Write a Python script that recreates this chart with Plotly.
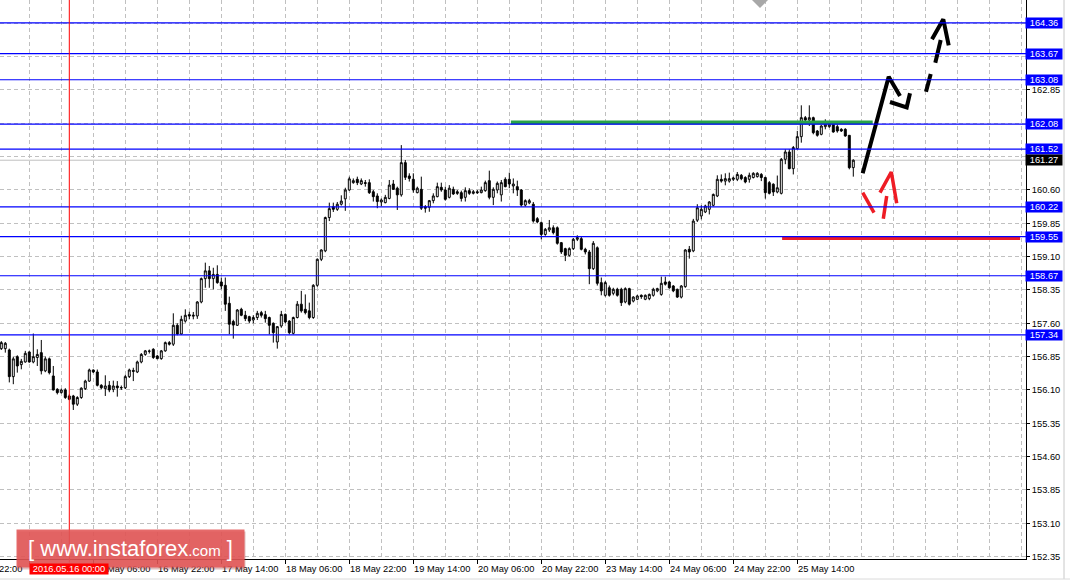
import plotly.graph_objects as go

# ---------------- data (H1 bars, bar 17 = 2016.05.16 00:00) ----------------
bar_index = list(range(214))

bar_open = [
    157.03, 157.03, 157.00, 156.40, 156.85, 156.67, 156.73, 156.955, 156.73, 156.83,
    156.94, 156.53, 156.80, 156.415, 156.115, 156.04, 156.10, 155.965, 155.965, 155.78,
    155.93, 156.13, 156.30, 156.55, 156.505, 156.205, 156.13, 156.205, 156.115, 156.19,
    156.155, 156.15, 156.40, 156.54, 156.505, 156.73, 156.90, 156.97, 157.015, 156.865,
    156.805, 156.98, 157.165, 157.13, 157.555, 157.36, 157.65, 157.795, 157.76, 157.765,
    158.08, 158.605, 158.78, 158.605, 158.70, 158.53, 158.455, 158.05, 157.64, 157.555,
    157.915, 157.78, 157.75, 157.675, 157.73, 157.84, 157.795, 157.73, 157.60, 157.18,
    157.54, 157.80, 157.65, 157.375, 157.73, 158.03, 157.915, 157.88, 157.73, 158.455,
    159.04, 159.23, 159.98, 160.225, 160.165, 160.28, 160.40, 160.60, 160.765, 160.84,
    160.735, 160.765, 160.765, 160.56, 160.465, 160.33, 160.315, 160.41, 160.735, 160.64,
    160.49, 161.215, 160.915, 160.84, 160.54, 160.615, 160.225, 160.21, 160.36, 160.45,
    160.66, 160.60, 160.435, 160.615, 160.56, 160.54, 160.435, 160.585, 160.525, 160.56,
    160.54, 160.585, 160.81, 160.435, 160.60, 160.49, 160.84, 160.84, 160.69, 160.675,
    160.60, 160.26, 160.31, 160.28, 159.955, 159.865, 159.60, 159.70, 159.75, 159.75,
    159.415, 159.28, 159.13, 159.28, 159.49, 159.505, 159.265, 159.205, 158.83, 159.30,
    158.515, 158.23, 158.40, 158.275, 158.365, 158.365, 158.08, 158.38, 158.10, 158.14,
    158.23, 158.14, 158.155, 158.23, 158.33, 158.25, 158.53, 158.53, 158.44, 158.365,
    158.19, 158.425, 159.265, 159.23, 159.92, 160.015, 160.105, 160.165, 160.255, 160.465,
    160.84, 160.80, 160.80, 160.84, 160.84, 160.93, 160.88, 160.84, 160.88, 160.90,
    160.95, 160.88, 160.765, 160.73, 160.555, 160.525, 161.29, 161.455, 161.08, 161.53,
    161.80, 162.2275, 162.175, 162.2275, 161.9275, 161.8525, 162.025, 162.025, 162.0775, 162.025,
    161.965, 161.965, 161.83, 161.1025,
]

bar_high = [
    157.20, 157.18, 157.03, 156.85, 156.88, 156.80, 156.98, 156.97, 157.37, 157.015,
    157.225, 156.85, 156.83, 156.64, 156.14, 156.13, 156.14, 156.00, 155.99, 155.96,
    156.16, 156.33, 156.58, 156.56, 156.56, 156.23, 156.43, 156.30, 156.31, 156.30,
    156.20, 156.44, 156.58, 156.60, 156.76, 156.93, 157.00, 157.01, 157.04, 156.89,
    157.00, 157.19, 157.20, 157.825, 157.60, 157.77, 157.915, 157.86, 157.855, 158.10,
    158.63, 158.965, 158.89, 158.85, 158.905, 158.63, 158.63, 158.20, 157.68, 157.92,
    157.95, 157.88, 157.77, 157.78, 157.88, 157.88, 157.88, 157.75, 157.62, 157.54,
    157.88, 157.82, 157.67, 157.75, 158.10, 158.33, 158.25, 158.065, 158.48, 159.06,
    159.265, 160.00, 160.315, 160.315, 160.33, 160.48, 160.65, 160.90, 160.86, 160.90,
    160.86, 160.825, 160.84, 160.60, 160.525, 160.41, 160.49, 160.825, 160.825, 160.675,
    161.61, 161.275, 160.975, 160.975, 160.675, 160.90, 160.26, 160.375, 160.525, 160.765,
    160.765, 160.675, 160.71, 160.675, 160.60, 160.585, 160.66, 160.64, 160.60, 160.60,
    160.675, 160.81, 161.035, 160.66, 160.79, 160.825, 160.885, 160.99, 160.86, 160.81,
    160.62, 160.39, 160.40, 160.33, 159.99, 159.89, 159.745, 159.925, 159.805, 159.78,
    159.43, 159.30, 159.31, 159.52, 159.58, 159.55, 159.30, 159.25, 159.45, 159.33,
    158.63, 158.55, 158.45, 158.40, 158.40, 158.40, 158.41, 158.40, 158.21, 158.24,
    158.25, 158.25, 158.27, 158.40, 158.40, 158.65, 158.65, 158.55, 158.46, 158.38,
    158.46, 159.27, 159.34, 159.95, 160.28, 160.255, 160.27, 160.35, 160.52, 160.93,
    160.95, 160.975, 160.99, 160.90, 161.005, 160.96, 160.91, 160.99, 161.00, 161.00,
    160.98, 160.90, 160.80, 160.75, 160.925, 161.32, 161.515, 161.515, 161.59, 161.93,
    162.505, 162.265, 162.505, 162.25, 161.95, 162.06, 162.19, 162.12, 162.10, 162.0775,
    161.99, 161.99, 161.83, 161.29,
]

bar_low = [
    157.00, 156.94, 156.27, 156.23, 156.49, 156.565, 156.715, 156.715, 156.70, 156.64,
    156.45, 156.50, 156.45, 156.09, 156.00, 156.02, 155.90, 155.87, 155.65, 155.74,
    155.90, 156.10, 156.28, 156.48, 156.18, 156.12, 155.965, 156.05, 156.05, 155.95,
    156.10, 156.12, 156.37, 156.30, 156.48, 156.70, 156.87, 156.92, 156.80, 156.79,
    156.78, 156.96, 157.10, 157.09, 157.33, 157.34, 157.615, 157.69, 157.69, 157.70,
    158.05, 158.40, 158.40, 158.365, 158.49, 158.365, 157.88, 157.355, 157.255, 157.54,
    157.76, 157.65, 157.60, 157.60, 157.675, 157.73, 157.615, 157.35, 157.165, 157.03,
    157.50, 157.60, 157.35, 157.35, 157.71, 157.84, 157.80, 157.69, 157.70, 158.42,
    159.00, 159.20, 159.90, 160.105, 160.13, 160.25, 160.13, 160.58, 160.74, 160.71,
    160.71, 160.675, 160.51, 160.34, 160.19, 160.24, 160.30, 160.39, 160.60, 160.15,
    160.45, 160.825, 160.79, 160.54, 160.525, 160.15, 160.09, 160.11, 160.30, 160.435,
    160.56, 160.36, 160.41, 160.49, 160.49, 160.34, 160.34, 160.49, 160.50, 160.51,
    160.525, 160.56, 160.39, 160.26, 160.525, 160.34, 160.66, 160.64, 160.525, 160.465,
    160.225, 160.225, 160.28, 159.865, 159.85, 159.49, 159.57, 159.655, 159.60, 159.37,
    159.16, 159.00, 159.10, 159.25, 159.45, 159.24, 159.15, 158.48, 158.80, 158.45,
    158.23, 158.20, 158.20, 158.23, 158.20, 157.99, 158.05, 158.00, 158.07, 158.12,
    158.15, 158.12, 158.12, 158.20, 158.30, 158.22, 158.45, 158.38, 158.30, 158.17,
    158.16, 158.40, 159.055, 159.20, 159.88, 159.94, 160.08, 160.05, 160.23, 160.44,
    160.765, 160.705, 160.765, 160.80, 160.80, 160.82, 160.75, 160.765, 160.86, 160.88,
    160.80, 160.405, 160.50, 160.465, 160.525, 160.50, 161.18, 161.065, 160.95, 161.515,
    161.665, 162.08, 162.04, 161.8525, 161.80, 161.83, 161.965, 162.00, 161.89, 161.89,
    161.905, 161.80, 161.065, 160.90,
]

bar_close = [
    157.165, 157.15, 156.40, 156.80, 156.64, 156.745, 156.925, 156.73, 156.85, 156.90,
    156.53, 156.80, 156.49, 156.10, 156.04, 156.10, 155.93, 155.89, 155.78, 155.93,
    156.14, 156.30, 156.55, 156.505, 156.205, 156.15, 156.19, 156.10, 156.19, 156.15,
    156.15, 156.40, 156.55, 156.52, 156.73, 156.90, 156.98, 156.975, 156.83, 156.805,
    156.98, 157.165, 157.13, 157.555, 157.36, 157.69, 157.78, 157.765, 157.78, 158.08,
    158.605, 158.78, 158.605, 158.70, 158.515, 158.44, 158.03, 157.58, 157.56, 157.90,
    157.78, 157.705, 157.65, 157.73, 157.825, 157.78, 157.705, 157.555, 157.39, 157.525,
    157.80, 157.63, 157.39, 157.73, 158.03, 157.88, 157.84, 157.73, 158.455, 159.04,
    159.25, 159.98, 160.18, 160.165, 160.28, 160.35, 160.60, 160.85, 160.81, 160.765,
    160.81, 160.75, 160.54, 160.45, 160.34, 160.375, 160.435, 160.71, 160.615, 160.49,
    161.215, 160.885, 160.86, 160.60, 160.64, 160.19, 160.19, 160.36, 160.465, 160.675,
    160.60, 160.39, 160.64, 160.51, 160.525, 160.41, 160.585, 160.525, 160.56, 160.54,
    160.60, 160.765, 160.435, 160.615, 160.75, 160.765, 160.675, 160.735, 160.735, 160.60,
    160.26, 160.36, 160.36, 159.90, 159.88, 159.60, 159.715, 159.75, 159.64, 159.40,
    159.205, 159.13, 159.28, 159.49, 159.53, 159.265, 159.205, 158.83, 159.40, 158.50,
    158.33, 158.515, 158.23, 158.365, 158.23, 158.065, 158.38, 158.03, 158.19, 158.215,
    158.20, 158.23, 158.25, 158.365, 158.38, 158.50, 158.48, 158.40, 158.33, 158.19,
    158.44, 159.25, 159.205, 159.90, 160.20, 160.165, 160.24, 160.33, 160.50, 160.84,
    160.80, 160.855, 160.855, 160.87, 160.95, 160.855, 160.78, 160.93, 160.975, 160.975,
    160.88, 160.54, 160.525, 160.555, 160.65, 161.29, 161.455, 161.08, 161.555, 161.80,
    162.2275, 162.175, 162.2275, 161.89, 161.83, 162.04, 162.0775, 162.0775, 161.905, 161.9275,
    161.9275, 161.815, 161.1025, 161.27,
]

# horizontal price levels (blue), current bid
level_prices = [164.36, 163.67, 163.08, 162.08, 161.52, 160.22, 159.55, 158.67, 157.34]
bid_price = 161.27

# y-axis ticks (labels hidden under the level boxes are left blank)
y_tick_vals = [152.35, 153.10, 153.85, 154.60, 155.35, 156.10, 156.85, 157.60, 158.35,
               159.10, 159.85, 160.60, 161.35, 162.10, 162.85, 163.60, 164.35]
y_tick_text = ["152.35", "153.10", "153.85", "154.60", "155.35", "156.10", "156.85", "157.60",
               "158.35", "159.10", "159.85", "160.60", "", "", "162.85", "", ""]

# x-axis ticks (bar index -> label)
x_tick_bars = [-9, 7, 23, 39, 55, 71, 87, 103, 119, 135, 151, 167, 183, 199]
x_tick_text = ["12 May 22:00", "", "16 May 06:00", "16 May 22:00", "17 May 14:00",
               "18 May 06:00", "18 May 22:00", "19 May 14:00", "20 May 06:00",
               "20 May 22:00", "23 May 14:00", "24 May 06:00", "24 May 22:00",
               "25 May 14:00"]
x_grid_bars = list(range(-1, 260, 8))

cursor_bar = 17
cursor_text = "2016.05.16 00:00"

# analyst drawings
green_line_bars = [127.4, 217.85]
green_line_price = [162.12, 162.12]
red_line_bars = [195.2, 254.7]
red_line_price = [159.52, 159.52]

black_arrow_bars = [215.35, 221.85, 224.675, None, 222.175, 226.35, 227.175]
black_arrow_price = [160.975, 163.15, 162.715, None, 162.58, 162.46, 162.776]
black_dash_bars = [231.175, 232.35, None, 233.5, 234.85, None, 232.675, 235.5, 236.85]
black_dash_price = [162.81, 163.21, None, 163.464, 163.975, None, 163.99, 164.44, 163.856]
red_arrow_bars = [215.35, 218.175, None, 220.5, 221.35, None, 219.675, 222.5, 223.85]
red_arrow_price = [160.539, 160.089, None, 159.954, 160.465, None, 160.539, 161.005, 160.30]

# ---------------- figure ----------------
FONT = "Liberation Sans, Arial, sans-serif"
X_LO, X_HI = -0.325, 256.175
Y_LO, Y_HI = 152.2965, 164.875
PLOT_W, PLOT_H = 1026, 559


def xpaper(b):
    return (b - X_LO) / (X_HI - X_LO)


fig = go.Figure()

fig.add_trace(go.Candlestick(
    x=bar_index, open=bar_open, high=bar_high, low=bar_low, close=bar_close,
    increasing=dict(line=dict(color="black", width=1), fillcolor="white"),
    decreasing=dict(line=dict(color="black", width=1), fillcolor="black"),
    whiskerwidth=0, hoverinfo="skip", showlegend=False,
))

fig.add_trace(go.Scatter(x=green_line_bars, y=green_line_price, mode="lines",
                         line=dict(color="#27A348", width=4), showlegend=False, hoverinfo="skip"))
fig.add_trace(go.Scatter(x=red_line_bars, y=red_line_price, mode="lines",
                         line=dict(color="#EE1C25", width=4), showlegend=False, hoverinfo="skip"))
fig.add_trace(go.Scatter(x=black_arrow_bars, y=black_arrow_price, mode="lines",
                         line=dict(color="black", width=4), showlegend=False, hoverinfo="skip"))
fig.add_trace(go.Scatter(x=black_dash_bars, y=black_dash_price, mode="lines",
                         line=dict(color="black", width=4), showlegend=False, hoverinfo="skip"))
fig.add_trace(go.Scatter(x=red_arrow_bars, y=red_arrow_price, mode="lines",
                         line=dict(color="#EE1C25", width=3.5), showlegend=False, hoverinfo="skip"))

shapes = []
# bid line
shapes.append(dict(type="line", xref="paper", x0=0, x1=1, yref="y", y0=bid_price, y1=bid_price,
                   line=dict(color="#C0C0C0", width=1), layer="below"))
# blue levels
for p in level_prices:
    shapes.append(dict(type="line", xref="paper", x0=0, x1=1, yref="y", y0=p, y1=p,
                       line=dict(color="#0000FF", width=1.2), layer="above"))
# cursor vertical line
shapes.append(dict(type="line", xref="x", x0=cursor_bar, x1=cursor_bar, yref="paper",
                   y0=-3.7 / PLOT_H, y1=1, line=dict(color="#FF0000", width=1), layer="above"))
# right strip & bottom separator
shapes.append(dict(type="line", xref="paper", x0=1064 / PLOT_W, x1=1064 / PLOT_W, yref="paper",
                   y0=-20 / PLOT_H, y1=1, line=dict(color="#C8C8C8", width=1)))
shapes.append(dict(type="line", xref="paper", x0=0, x1=1070 / PLOT_W, yref="paper",
                   y0=-20 / PLOT_H, y1=-20 / PLOT_H, line=dict(color="#DADADA", width=1)))
# chart shift marker
shapes.append(dict(type="path", xref="paper", yref="paper",
                   path=f"M {752 / PLOT_W} 1 L {768 / PLOT_W} 1 L {760 / PLOT_W} {1 - 8 / PLOT_H} Z",
                   fillcolor="#A8A8A8", line=dict(width=0)))

annotations = []
for b, t in zip(x_tick_bars, x_tick_text):
    if not t:
        continue
    annotations.append(dict(xref="paper", yref="paper", x=xpaper(b), y=0, xanchor="left",
                            yanchor="top", yshift=-3, xshift=-1, text=t, showarrow=False,
                            font=dict(family=FONT, size=9.3, color="black")))

for p in level_prices:
    annotations.append(dict(xref="paper", x=1, xanchor="left", xshift=-1, yref="y", y=p,
                            yanchor="middle", text=f"{p:.2f}", showarrow=False,
                            bgcolor="#0000FF", font=dict(family=FONT, size=9.3, color="white"),
                            width=36, height=10, borderpad=0))
annotations.append(dict(xref="paper", x=1, xanchor="left", xshift=-1, yref="y", y=bid_price,
                        yanchor="middle", text=f"{bid_price:.2f}", showarrow=False,
                        bgcolor="#000000", font=dict(family=FONT, size=9.3, color="white"),
                        width=36, height=10, borderpad=0))

logo_text = ("[ www.instaforex<span style='font-size:15px'>.com</span> ]")
annotations.append(dict(xref="paper", yref="paper", x=(131.5) / PLOT_W, y=-(550 - PLOT_H) / PLOT_H,
                        xanchor="center", yanchor="middle", text="", showarrow=False,
                        bgcolor="rgba(150,40,40,0.3)", width=227, height=37, borderpad=0))
annotations.append(dict(xref="paper", yref="paper", x=(130.5) / PLOT_W, y=-(548.5 - PLOT_H) / PLOT_H,
                        xanchor="center", yanchor="middle", text=logo_text, showarrow=False,
                        bgcolor="rgba(226,86,86,0.88)",
                        font=dict(family=FONT, size=22, color="white"),
                        width=227, height=37, borderpad=0))

# cursor time label drawn on top
annotations.append(dict(xref="paper", x=xpaper(cursor_bar), xanchor="center", yref="paper", y=0,
                        yanchor="top", yshift=-4, text=cursor_text, showarrow=False,
                        bgcolor="#FF0000", font=dict(family=FONT, size=9.3, color="white"),
                        width=78, height=10, borderpad=0))

fig.update_layout(
    width=1070, height=581,
    margin=dict(l=0, r=1070 - PLOT_W, t=0, b=581 - PLOT_H, autoexpand=False),
    paper_bgcolor="white", plot_bgcolor="white",
    showlegend=False, boxgap=0.3,
    shapes=shapes, annotations=annotations,
    xaxis=dict(
        range=[X_LO, X_HI], rangeslider=dict(visible=False),
        tickmode="array", tickvals=x_tick_bars, ticktext=[""] * len(x_tick_bars),
        ticks="outside", ticklen=4, tickcolor="black", showticklabels=False,
        showline=True, linecolor="black", linewidth=1, zeroline=False,
        showgrid=False,
        minor=dict(tickmode="array", tickvals=x_grid_bars, showgrid=True, gridcolor="#C0C0C0",
                   griddash="4px,3px", gridwidth=1, ticks=""),
    ),
    yaxis=dict(
        range=[Y_LO, Y_HI], side="right",
        tickmode="array", tickvals=y_tick_vals, ticktext=y_tick_text,
        ticks="outside", ticklen=3, tickcolor="black",
        tickfont=dict(family=FONT, size=9.3, color="black"),
        showline=True, linecolor="black", linewidth=1, zeroline=False,
        showgrid=True, gridcolor="#C0C0C0", griddash="4px,3px", gridwidth=1,
    ),
)

fig.write_html("out.html", config={"displayModeBar": False},
               post_script="document.body.style.margin='0';")
